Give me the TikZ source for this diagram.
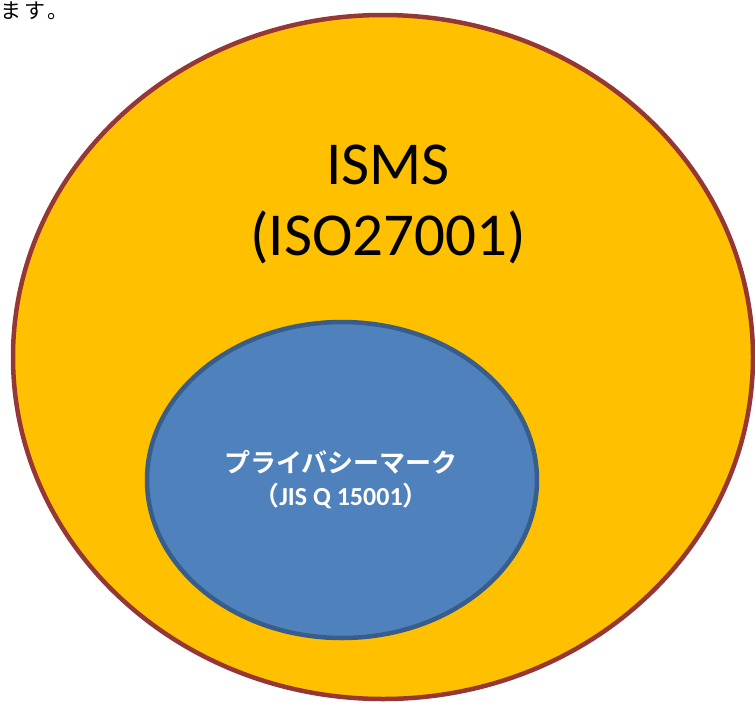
\documentclass[tikz,border=0pt]{standalone}
\usepackage{fontspec}
\setmainfont{Carlito}
\newfontfamily\jpfont{Noto Sans CJK JP}[BoldFont={Noto Sans CJK JP Bold}]
\usetikzlibrary{positioning, shapes.geometric}
\definecolor{ismsfill}{HTML}{FFC000}
\definecolor{ismsline}{HTML}{953735}
\definecolor{pmarkfill}{HTML}{4F81BD}
\definecolor{pmarkline}{HTML}{385D8A}

\begin{document}
\begin{tikzpicture}[x=1pt, y=-1pt,
    every node/.style={inner sep=0pt},
    zone/.style={ellipse, draw, line width=4.5pt},
    bigtext/.style={font=\fontsize{61}{61}\selectfont, anchor=base},
    marktext/.style={font=\fontsize{26}{26}\selectfont\bfseries, text=white, anchor=base}]

% Canvas (keeps the page size)
\useasboundingbox (0,0) rectangle (755,702);

% Tail of the sentence above the figure
\node[anchor=base west, font=\jpfont\fontsize{21}{21}\selectfont\addfontfeature{LetterSpace=18}] (tail) at (0,18) {ます。};

% ISMS - outer zone
\node[zone, fill=ismsfill, draw=ismsline, minimum width=740pt, minimum height=684pt] (isms-zone) at (383,357) {};

% Privacy mark - inner zone
\node[zone, fill=pmarkfill, draw=pmarkline, minimum width=390pt, minimum height=316pt] (pmark-zone) at (342,480) {};

% ISMS labels
\node[bigtext] (isms) at (388,184) {ISMS};
\node[bigtext] (iso) at ([yshift=-71pt]isms.base) {(ISO27001)};

% Privacy mark labels
\node[marktext] (pmark) at (341,472) {\jpfont プライバシーマーク};
\node[marktext] (jis) at ([yshift=-33pt]pmark.base) {{\jpfont （}JIS Q 15001{\jpfont ）}};
\end{tikzpicture}
\end{document}
